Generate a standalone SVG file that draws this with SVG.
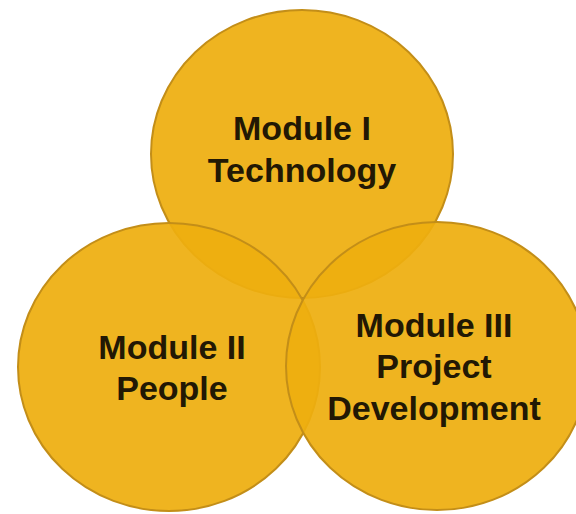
<svg xmlns="http://www.w3.org/2000/svg" width="576" height="514" viewBox="0 0 576 514">
<style>
.c{fill:#EEAE0F;fill-opacity:0.93;stroke:#C38E18;stroke-width:2}
.t{font-family:"Liberation Sans",Arial,sans-serif;font-weight:bold;font-size:34px;fill:#221804;text-anchor:middle}
</style>
<rect width="576" height="514" fill="#ffffff"/>
<g id="module-1">
<ellipse class="c" cx="302" cy="154" rx="151" ry="144"/>
</g>
<g id="module-2">
<ellipse class="c" cx="169" cy="367" rx="151" ry="144"/>
</g>
<g id="module-3">
<ellipse class="c" cx="437" cy="366" rx="151" ry="144"/>
</g>
<g id="labels">
<text class="t" x="302" y="140">Module I</text>
<text class="t" x="302" y="182">Technology</text>
<text class="t" x="172" y="359">Module II</text>
<text class="t" x="172" y="400">People</text>
<text class="t" x="434" y="337">Module III</text>
<text class="t" x="434" y="378">Project</text>
<text class="t" x="434" y="420">Development</text>
</g>
<g id="connectors"></g>
</svg>
